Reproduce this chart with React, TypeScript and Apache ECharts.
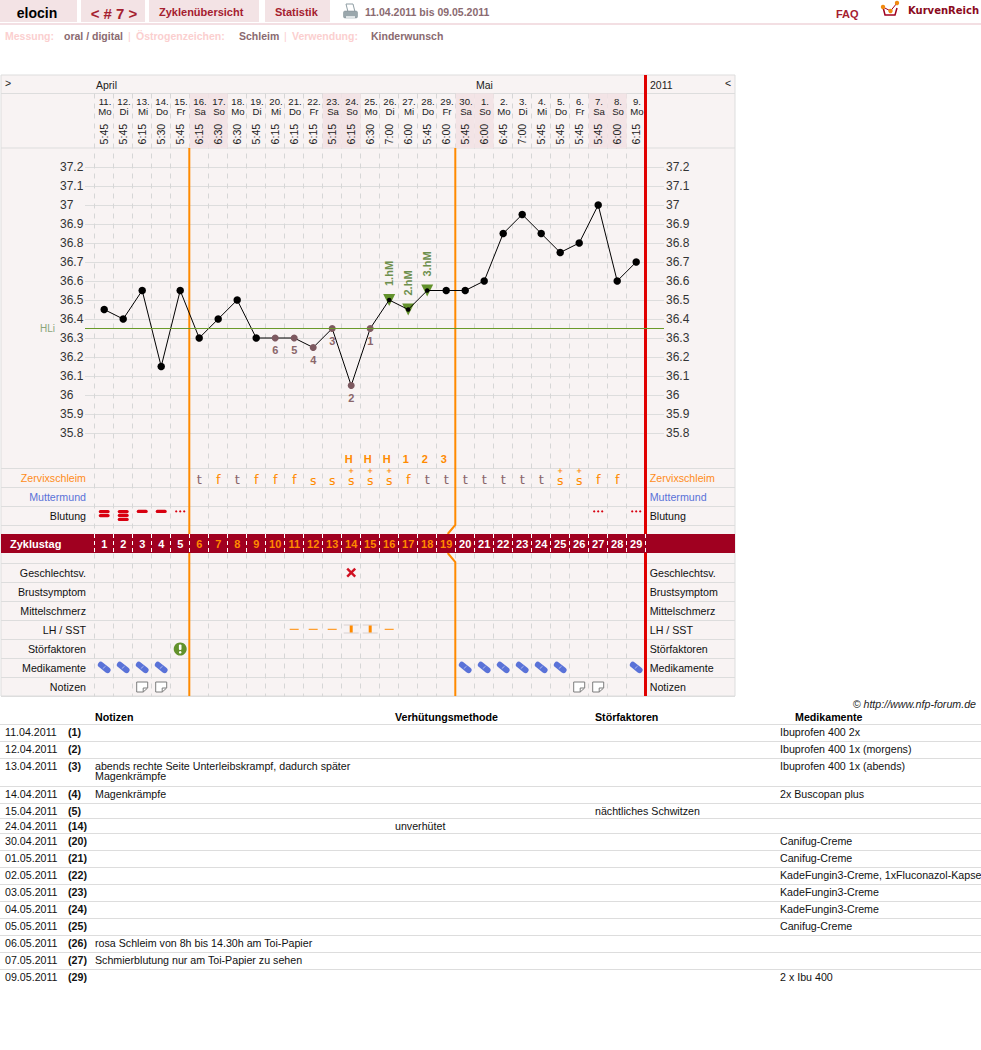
import React, { useEffect, useRef } from "react";
import * as echarts from "echarts";

const dayNums = ["11.","12.","13.","14.","15.","16.","17.","18.","19.","20.","21.","22.","23.","24.","25.","26.","27.","28.","29.","30.","1.","2.","3.","4.","5.","6.","7.","8.","9."];
const weekdays = ["Mo","Di","Mi","Do","Fr","Sa","So","Mo","Di","Mi","Do","Fr","Sa","So","Mo","Di","Mi","Do","Fr","Sa","So","Mo","Di","Mi","Do","Fr","Sa","So","Mo"];
const times = ["5:45","5:45","6:15","5:30","5:45","6:15","6:30","6:30","5:45","6:15","6:15","6:15","5:15","6:15","6:30","7:00","6:00","5:45","6:00","5:45","6:00","6:45","7:00","5:45","5:45","5:45","5:45","6:00","6:15"];
const cycleDays = ["1","2","3","4","5","6","7","8","9","10","11","12","13","14","15","16","17","18","19","20","21","22","23","24","25","26","27","28","29"];
const temps = [36.45,36.4,36.55,36.15,36.55,36.3,36.4,36.5,36.3,36.3,36.3,36.25,36.35,36.05,36.35,36.5,36.45,36.55,36.55,36.55,36.6,36.85,36.95,36.85,36.75,36.8,37.0,36.6,36.7];
const lowDays = [10,11,12,13,14,15];
const lowLabels = ["6","5","4","3","2","1"];
const highDays = [16,17,18];
const highLabels = ["1.hM","2.hM","3.hM"];
const coverLine = 36.35;
const peakDays = [14,15,16,17,18,19];
const peakLabels = ["H","H","H","1","2","3"];
const mucus = ["","","","","","t","f","t","f","f","f","s","s","s+","s+","s+","f","t","t","t","t","t","t","t","s+","s+","f","f",""];
const rowLabels = ["","Zervixschleim","Muttermund","Blutung","","","Geschlechtsv.","Brustsymptom","Mittelschmerz","LH / SST","Störfaktoren","Medikamente","Notizen"];
const bleed2Days = [1];
const bleed3Days = [2];
const bleed1Days = [3,4];
const spotDays = [5,27,29];
const crossDays = [14];
const lhDays = [11,12,13,16];
const sstDays = [14,15];
const warningDays = [5];
const pillDays = [1,2,3,4,20,21,22,23,24,25,29];
const noteDays = [3,4,26,27];

const tableHead = ["Notizen","Verhütungsmethode","Störfaktoren","Medikamente"];
const tableDates = ["11.04.2011","12.04.2011","13.04.2011","14.04.2011","15.04.2011","24.04.2011","30.04.2011","01.05.2011","02.05.2011","03.05.2011","04.05.2011","05.05.2011","06.05.2011","07.05.2011","09.05.2011"];
const tableNums = ["(1)","(2)","(3)","(4)","(5)","(14)","(20)","(21)","(22)","(23)","(24)","(25)","(26)","(27)","(29)"];
const tableNotes = ["","","abends rechte Seite Unterleibskrampf, dadurch später\nMagenkrämpfe","Magenkrämpfe","","","","","","","","","rosa Schleim von 8h bis 14.30h am Toi-Papier","Schmierblutung nur am Toi-Papier zu sehen",""];
const tableMethod = ["","","","","","unverhütet","","","","","","","","",""];
const tableFactors = ["","","","","nächtliches Schwitzen","","","","","","","","","",""];
const tableMeds = ["Ibuprofen 400 2x","Ibuprofen 400 1x (morgens)","Ibuprofen 400 1x (abends)","2x Buscopan plus","","","Canifug-Creme","Canifug-Creme","KadeFungin3-Creme, 1xFluconazol-Kapse","KadeFungin3-Creme","KadeFungin3-Creme","Canifug-Creme","","","2 x Ibu 400"];
const tableHeights = [17,17,28,17,15,15,17,17,17,17,17,17,17,17,17];

const FONT = '"Liberation Sans", Arial, sans-serif';
const GREY = "#dddddd";
const PANEL = "#f8f3f3";
const ORANGE = "#ff8a00";
const BROWN = "#8a666a";
const GREEN = "#63922c";
const DARKRED = "#a00020";
const TABRED = "#a5202f";
const TABBG = "#f3e3e5";
const PINK = "#fbcfcf";
const MUTED = "#8a6a70";
const BLUE = "#5a72d8";
const COLW = 19;
const PLOTL = 94.7;
const PLOTW = COLW * 29;
const Y_MIN = 35.8;
const Y_MAX = 37.2;

const cats = cycleDays;
const idx = (days: number[]) => days.map((d) => d - 1);
const rowColor = (v: string) =>
  v === "Zervixschleim" ? "#ff8c1a" : v === "Muttermund" ? BLUE : "#111111";

const txt = (text: string, x: number, y: number, font: string, fill: string, align = "left") => ({
  type: "text",
  silent: true,
  style: { text, x, y, font, fill, align, textAlign: align, verticalAlign: "middle", textVerticalAlign: "middle" },
});
const rect = (x: number, y: number, width: number, height: number, fill: string) => ({
  type: "rect",
  silent: true,
  shape: { x, y, width, height },
  style: { fill },
});
const hline = (x1: number, x2: number, y: number, stroke: string, lineWidth = 1) => ({
  type: "line",
  silent: true,
  shape: { x1, y1: y, x2, y2: y },
  style: { stroke, lineWidth },
});

function buildGraphic() {
  const els: any[] = [];
  // top bar
  els.push(rect(0, 0, 77, 22, TABBG), rect(81, 0, 64, 22, TABBG), rect(149, 0, 110, 22, TABBG), rect(265, 0, 65, 22, TABBG));
  els.push(rect(0, 23, 981, 2, "#f3dfe3"));
  els.push(txt("elocin", 37, 13, `bold 14px ${FONT}`, "#000000", "center"));
  els.push(txt("< # 7 >", 114, 13, `bold 15px ${FONT}`, TABRED, "center"));
  els.push(txt("Zyklenübersicht", 159, 12, `bold 11px ${FONT}`, TABRED));
  els.push(txt("Statistik", 275, 12, `bold 11px ${FONT}`, TABRED));
  els.push(txt("11.04.2011 bis 09.05.2011", 365, 12, `bold 10.5px ${FONT}`, MUTED));
  els.push(txt("FAQ", 836, 14, `bold 11px ${FONT}`, TABRED));
  els.push(txt("KurvenReich", 908, 10, `bold 10px "DejaVu Sans"`, "#8a0a20"));
  // printer icon
  els.push({ type: "polygon", silent: true, shape: { points: [[346, 4], [353, 4], [355, 12], [348, 12]] }, style: { fill: "#ffffff", stroke: "#8f9ea4", lineWidth: 1 } });
  els.push({ type: "rect", silent: true, shape: { x: 343.5, y: 11, width: 14, height: 7, r: 1.5 }, style: { fill: "#9aa7ac", stroke: "#7d8a90", lineWidth: 0.5 } });
  els.push(rect(346, 16, 9, 3, "#dfe4e6"));
  // logo
  els.push({ type: "polyline", silent: true, shape: { points: [[883, 7], [885, 15], [895, 15], [897, 8]] }, style: { stroke: "#a00020", lineWidth: 1.5, fill: "none" } });
  els.push({ type: "polyline", silent: true, shape: { points: [[883, 7], [890.5, 11], [897, 3]] }, style: { stroke: "#a00020", lineWidth: 1, fill: "none" } });
  [[883, 7], [890.5, 11], [897, 3]].forEach(([cx, cy]) =>
    els.push({ type: "circle", silent: true, shape: { cx, cy, r: 2.2 }, style: { fill: "#f08a10" } })
  );
  // sub bar
  const sub = `bold 10.5px ${FONT}`;
  els.push(txt("Messung:", 5, 36, sub, PINK), txt("oral / digital", 64, 36, sub, MUTED), txt("|", 128, 36, `10.5px ${FONT}`, PINK));
  els.push(txt("Östrogenzeichen:", 136, 36, sub, PINK), txt("Schleim", 239, 36, sub, MUTED), txt("|", 284, 36, `10.5px ${FONT}`, PINK));
  els.push(txt("Verwendung:", 292, 36, sub, PINK), txt("Kinderwunsch", 371, 36, sub, MUTED));
  // table header strip
  const small = `10.5px ${FONT}`;
  els.push(txt(">", 5, 83, small, "#222222"), txt("April", 96, 85, small, "#222222"), txt("Mai", 476, 85, small, "#222222"));
  els.push(txt("2011", 650, 85, small, "#222222"), txt("<", 725, 83, small, "#222222"));
  els.push(hline(1, 735, 93.5, GREY), hline(1, 735, 148, GREY));
  // cycle lines, broken by the band
  const x1 = PLOTL + 5 * COLW;
  const x2 = PLOTL + 19 * COLW;
  const xEnd = PLOTL + 29 * COLW;
  const orange = (points: number[][]) => ({ type: "polyline", silent: true, z2: 10, shape: { points }, style: { stroke: ORANGE, lineWidth: 2, fill: "none" } });
  els.push(orange([[x1 - 0.4, 148], [x1 - 0.4, 534]]), orange([[x1 - 0.4, 553], [x1 - 0.4, 696]]));
  els.push(orange([[x2 - 0.4, 148], [x2 - 0.4, 525], [x2 - 8, 534]]), orange([[x2 - 8, 553], [x2 - 0.4, 562], [x2 - 0.4, 696]]));
  const red = (a: number, b: number) => ({ type: "line", silent: true, z2: 10, shape: { x1: xEnd - 0.2, y1: a, x2: xEnd - 0.2, y2: b }, style: { stroke: "#e00000", lineWidth: 3 } });
  els.push(red(75, 534), red(553, 696));
  // footer table
  els.push(txt("© http://www.nfp-forum.de", 976, 704, `italic 10.67px ${FONT}`, "#222222", "right"));
  const hx = [95, 395, 595, 795];
  tableHead.forEach((h, i) => els.push(txt(h, hx[i], 717, `bold 10.67px ${FONT}`, "#000000")));
  let top = 724.5;
  els.push(hline(0, 981, top, GREY));
  const body = `10.67px ${FONT}`;
  tableDates.forEach((d, i) => {
    const y = top + 7;
    els.push(txt(d, 5, y, body, "#111111"));
    els.push(txt(tableNums[i], 68, y, `bold 10.67px ${FONT}`, "#111111"));
    const note = tableNotes[i];
    if (note) {
      note.split("\n").forEach((line, k) => els.push(txt(line, 95, y + k * 10, body, "#111111")));
    }
    if (tableMethod[i]) els.push(txt(tableMethod[i], 395, y, body, "#111111"));
    if (tableFactors[i]) els.push(txt(tableFactors[i], 595, y, body, "#111111"));
    if (tableMeds[i]) els.push(txt(tableMeds[i], 780, y, body, "#111111"));
    top += tableHeights[i];
    if (i < tableDates.length - 1) els.push(hline(0, 981, top, GREY));
  });
  return els;
}

const RED = "#d80010";
function renderIcon(_: any, api: any) {
  const [cx, cy] = api.coord([api.value(0), api.value(1)]);
  const kind = ["b1", "b2", "b3", "spot", "cross", "lh", "sst", "warn", "pill", "note"][api.value(2)];
  const pill = (dy: number, w = 11) => ({ type: "rect", shape: { x: cx - w / 2, y: cy + dy - 1.6, width: w, height: 3.2, r: 1.6 }, style: { fill: RED } });
  const seg = (a: number, b: number, c: number, d: number, stroke: string, lineWidth: number, lineCap = "butt") => ({
    type: "line",
    shape: { x1: cx + a, y1: cy + b, x2: cx + c, y2: cy + d },
    style: { stroke, lineWidth, lineCap },
  });
  let children: any[] = [];
  if (kind === "b1") children = [pill(-4.6)];
  if (kind === "b2") children = [pill(-4.4), pill(-0.4)];
  if (kind === "b3") children = [pill(-4.4), pill(-0.6), pill(3.4)];
  if (kind === "spot") children = [-4, 0, 4].map((dx) => ({ type: "circle", shape: { cx: cx + dx, cy: cy - 4.6, r: 1.1 }, style: { fill: RED } }));
  if (kind === "cross") children = [seg(-4, -4.4, 4, 3.6, "#d01020", 2.4), seg(-4, 3.6, 4, -4.4, "#d01020", 2.4)];
  if (kind === "lh") children = [seg(-4.5, -0.7, 4.5, -0.7, ORANGE, 1)];
  if (kind === "sst") children = [
    seg(-7.5, -5, 7.5, -5, "#d8d0d0", 1),
    seg(-7.5, 3, 7.5, 3, "#d8d0d0", 1),
    { type: "rect", shape: { x: cx - 1.5, y: cy - 4.5, width: 3, height: 7 }, style: { fill: ORANGE } },
  ];
  if (kind === "warn") children = [
    { type: "circle", shape: { cx, cy, r: 6.5 }, style: { fill: "#63922c" } },
    { type: "rect", shape: { x: cx - 1.3, y: cy - 4.5, width: 2.6, height: 5.5, r: 1 }, style: { fill: "#ffffff" } },
    { type: "circle", shape: { cx, cy: cy + 3.3, r: 1.3 }, style: { fill: "#ffffff" } },
  ];
  if (kind === "pill") children = [
    seg(-3.35, -3.25, 3.35, 2.05, BLUE, 6, "round"),
    seg(-1.4, 0.6, 1.4, -1.8, "#c3ccf0", 0.8),
  ];
  if (kind === "note") children = [
    { type: "polygon", shape: { points: [[cx - 5.5, cy - 5], [cx + 5.5, cy - 5], [cx + 5.5, cy + 1], [cx + 1, cy + 5], [cx - 5.5, cy + 5]] }, style: { fill: "#ffffff", stroke: "#7d7d7d", lineWidth: 1 } },
    { type: "polyline", shape: { points: [[cx + 5, cy + 1], [cx + 1, cy + 1], [cx + 1, cy + 5]] }, style: { stroke: "#7d7d7d", lineWidth: 1, fill: "none" } },
  ];
  return { type: "group", children };
}

const clear = { color: "transparent", opacity: 1 };

function buildOption(): any {
  const lineData = temps.map((v, i) => {
    const day = i + 1;
    const low = lowDays.indexOf(day);
    const high = highDays.indexOf(day) >= 0;
    const item: any = {
      value: v,
      symbol: "circle",
      symbolSize: high ? 4.5 : low >= 0 ? 7 : 7.5,
      itemStyle: { color: low >= 0 ? "#7d5960" : "#000000" },
    };
    if (low >= 0) {
      item.label = { show: true, position: "bottom", distance: 3, formatter: lowLabels[low], color: BROWN, fontSize: 11, fontWeight: "bold", fontFamily: FONT };
    }
    return item;
  });
  const highData = highDays.map((d, i) => ({
    value: [d - 1, temps[d - 1]],
    label: { formatter: highLabels[i] },
  }));
  const mucusData: any[] = [];
  mucus.forEach((m, i) => {
    if (!m) return;
    const letter = m.charAt(0);
    mucusData.push({
      value: [i, 1],
      label: {
        formatter: letter,
        color: letter === "t" ? BROWN : ORANGE,
        fontSize: letter === "s" ? 12.5 : 13,
        offset: [0, letter === "s" ? 2.2 : 1.5],
      },
    });
    if (m.length > 1) {
      mucusData.push({
        value: [i, 1],
        label: { formatter: "+", color: ORANGE, fontSize: 7, fontWeight: "bold", offset: [0, -7.5] },
      });
    }
  });
  const peakData = peakDays.map((d, i) => ({ value: [d - 1, 0], label: { formatter: peakLabels[i] } }));
  const iconData: number[][] = [];
  const add = (days: number[], row: number, kind: number) => idx(days).forEach((d) => iconData.push([d, row, kind]));
  add(bleed1Days, 3, 0);
  add(bleed2Days, 3, 1);
  add(bleed3Days, 3, 2);
  add(spotDays, 3, 3);
  add(crossDays, 6, 4);
  add(lhDays, 9, 5);
  add(sstDays, 9, 6);
  add(warningDays, 10, 7);
  add(pillDays, 11, 8);
  add(noteDays, 12, 9);

  const header = (y: number, arr: string[], rotate = 0, fontSize = 9.6) => ({
    type: "scatter",
    xAxisIndex: 4,
    yAxisIndex: 5,
    symbolSize: 1,
    itemStyle: clear,
    silent: true,
    z: 3,
    data: arr.map((_, i) => [i, y]),
    label: {
      show: true,
      position: "inside",
      rotate,
      offset: [0.8, 0],
      color: "#222222",
      fontSize,
      fontFamily: FONT,
      formatter: (p: any) => arr[p.dataIndex],
    },
  });

  const hiddenVal = (gridIndex: number, extra: any = {}) => ({ type: "value", gridIndex, show: false, ...extra });
  const hiddenCat = (gridIndex: number) => ({ type: "category", gridIndex, show: false, data: cats });
  const noAxisBits = { axisLine: { show: false }, axisTick: { show: false } };
  const tempAxis = (position: string, margin: number) => ({
    type: "value",
    gridIndex: 1,
    position,
    min: Y_MIN,
    max: Y_MAX,
    interval: 0.1,
    ...noAxisBits,
    axisLabel: { show: true, align: "left", margin, fontSize: 12, color: "#333333", fontFamily: FONT },
    splitLine: { show: position === "left", lineStyle: { color: GREY, width: 1 } },
  });
  const rowAxis = (position: string, margin: number) => ({
    type: "category",
    gridIndex: 5,
    position,
    inverse: true,
    data: rowLabels,
    ...noAxisBits,
    splitLine: { show: false },
    axisLabel: { show: true, interval: 0, margin, fontSize: 10.67, fontFamily: FONT, color: rowColor, align: position === "left" ? "right" : "left", padding: [0, 0, 3, 0] },
  });

  return {
    animation: false,
    backgroundColor: "#ffffff",
    textStyle: { fontFamily: FONT },
    graphic: { z: 1, elements: buildGraphic() },
    grid: [
      { left: 1, top: 75, width: 734, height: 621, show: true, backgroundColor: PANEL, borderColor: GREY, borderWidth: 1 }, // 0 panel
      { left: 85, top: 167, width: 579, height: 266 }, // 1 temperature scale
      { left: PLOTL, top: 167, width: PLOTW, height: 266 }, // 2 curve
      { left: PLOTL, top: 93.5, width: PLOTW, height: 603 }, // 3 day separators
      { left: 1, top: 468.5, width: 734, height: 228 }, // 4 row lines
      { left: PLOTL, top: 449.5, width: PLOTW, height: 247 }, // 5 rows
      { left: PLOTL, top: 93.5, width: PLOTW, height: 54.5 }, // 6 header cells
      { left: 1, top: 534, width: 734, height: 19, show: true, backgroundColor: DARKRED, borderWidth: 0, z: 3 }, // 7 band bg
      { left: PLOTL, top: 534, width: PLOTW, height: 19, z: 4 }, // 8 band
    ],
    xAxis: [
      hiddenVal(1, { min: 0, max: 1 }), // 0
      hiddenCat(2), // 1
      {
        type: "category",
        gridIndex: 3,
        data: cats,
        ...noAxisBits,
        axisLabel: { show: false },
        splitLine: { show: true, interval: 0, lineStyle: { color: "#d6d6d6", width: 1, type: [5, 5] } },
      }, // 2
      hiddenVal(4, { min: 0, max: 1 }), // 3
      hiddenCat(6), // 4
      hiddenCat(5), // 5
      {
        type: "category",
        gridIndex: 8,
        data: cats,
        z: 4,
        ...noAxisBits,
        axisLabel: { show: false },
        splitLine: { show: true, interval: 0, lineStyle: { color: "#ffffff", width: 1, type: [4, 3] } },
      }, // 6
    ],
    yAxis: [
      tempAxis("left", 25), // 0
      tempAxis("right", 2), // 1
      hiddenVal(2, { min: Y_MIN, max: Y_MAX }), // 2
      hiddenVal(3, { min: 0, max: 1 }), // 3
      {
        type: "value",
        gridIndex: 4,
        min: 0,
        max: 12,
        interval: 1,
        ...noAxisBits,
        axisLabel: { show: false },
        splitLine: { show: true, lineStyle: { color: GREY, width: 1 } },
      }, // 4
      hiddenVal(6, { min: 0, max: 1 }), // 5
      rowAxis("left", 8.7), // 6
      rowAxis("right", 4), // 7
      {
        type: "category",
        gridIndex: 8,
        data: ["Zyklustag"],
        z: 4,
        ...noAxisBits,
        axisLabel: { show: true, align: "left", margin: 84.7, color: "#ffffff", fontWeight: "bold", fontSize: 11, fontFamily: FONT },
      }, // 8
    ],
    series: [
      {
        type: "line",
        name: "HLi",
        xAxisIndex: 0,
        yAxisIndex: 0,
        data: [],
        symbol: "none",
        markLine: {
          silent: true,
          symbol: "none",
          data: [{ yAxis: coverLine }],
          lineStyle: { color: "#6a9a2a", width: 1, type: "solid" },
          label: { show: true, position: "start", distance: 30, formatter: "HLi", color: "#8aa57a", fontSize: 10, fontFamily: FONT },
        },
      },
      {
        type: "scatter",
        name: "hohe Messungen",
        xAxisIndex: 1,
        yAxisIndex: 2,
        symbol: "triangle",
        symbolRotate: 180,
        symbolSize: 12,
        itemStyle: { color: GREEN, opacity: 1 },
        z: 2,
        data: highData,
        label: { show: true, position: "top", distance: 8, rotate: 90, align: "left", verticalAlign: "middle", color: "#6d8f4d", fontSize: 11, fontWeight: "bold", fontFamily: FONT },
      },
      {
        type: "line",
        name: "Temperatur",
        xAxisIndex: 1,
        yAxisIndex: 2,
        z: 3,
        showSymbol: true,
        showAllSymbol: true,
        data: lineData,
        lineStyle: { color: "#000000", width: 1 },
      },
      {
        type: "bar",
        name: "Wochenende",
        xAxisIndex: 4,
        yAxisIndex: 5,
        barWidth: "100%",
        silent: true,
        z: 0,
        itemStyle: { color: "#f3e4e6" },
        data: weekdays.map((w) => (w === "Sa" || w === "So" ? 1 : null)),
      },
      header(0.85, dayNums),
      header(0.665, weekdays),
      header(0.24, times, 90, 10.6),
      {
        type: "scatter",
        name: "Zervixschleim",
        xAxisIndex: 5,
        yAxisIndex: 6,
        symbolSize: 1,
        itemStyle: clear,
        silent: true,
        z: 3,
        data: mucusData,
        label: { show: true, position: "inside", fontSize: 13, fontFamily: "DejaVu Sans" },
      },
      {
        type: "scatter",
        name: "Peak",
        xAxisIndex: 5,
        yAxisIndex: 6,
        symbolSize: 1,
        itemStyle: clear,
        silent: true,
        z: 3,
        data: peakData,
        label: { show: true, position: "inside", offset: [-2.5, 0], color: ORANGE, fontSize: 11, fontWeight: "bold", fontFamily: FONT },
      },
      {
        type: "custom",
        name: "Symbole",
        xAxisIndex: 5,
        yAxisIndex: 6,
        silent: true,
        z: 3,
        data: iconData,
        renderItem: renderIcon,
      },
      {
        type: "scatter",
        name: "Zyklustag",
        xAxisIndex: 6,
        yAxisIndex: 8,
        symbolSize: 1,
        itemStyle: clear,
        silent: true,
        z: 5,
        data: cycleDays.map((_, i) => ({
          value: [i, 0],
          label: { color: i >= 5 && i <= 18 ? ORANGE : "#ffffff" },
        })),
        label: {
          show: true,
          position: "inside",
          fontSize: 11,
          fontWeight: "bold",
          fontFamily: FONT,
          formatter: (p: any) => cycleDays[p.dataIndex],
        },
      },
    ],
  };
}

export default function App() {
  const ref = useRef<HTMLDivElement>(null);
  useEffect(() => {
    const chart = echarts.init(ref.current!, undefined, { renderer: "svg" });
    chart.setOption(buildOption());
    return () => chart.dispose();
  }, []);
  return <div ref={ref} style={{ position: "absolute", left: 0, top: 0, width: 981, height: 1050 }} />;
}
